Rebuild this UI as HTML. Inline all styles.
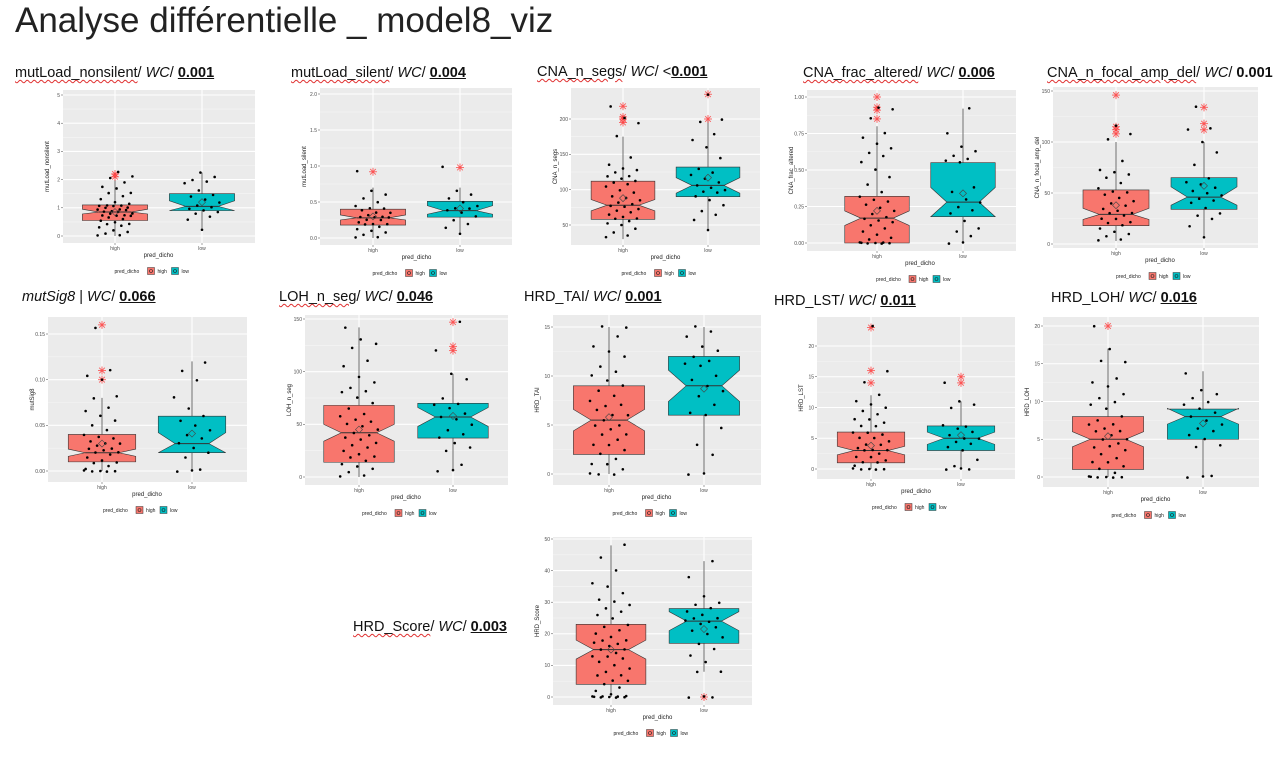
<!DOCTYPE html>
<html><head><meta charset="utf-8"><style>
html,body{margin:0;padding:0;background:#fff;}
body{width:1277px;height:765px;overflow:hidden;position:relative;font-family:"Liberation Sans",sans-serif;}
.t{position:absolute;font-size:14.5px;color:#111;white-space:nowrap;}
.sq{text-decoration:underline wavy #e03030;text-decoration-thickness:1px;text-underline-offset:2px;}
.p{font-weight:bold;text-decoration:underline;}
.pn{font-weight:bold;}
</style></head><body>
<div class="t" style="left:15px;top:1px;font-size:35px;color:#222;">Analyse différentielle _ model8_viz</div>
<div class="t" style="left:15px;top:65px;"><span class="sq">mutLoad_nonsilent</span>/ <i>WC</i>/ <span class="p">0.001</span></div>
<div class="t" style="left:291px;top:65px;"><span class="sq">mutLoad_silent</span>/ <i>WC</i>/ <span class="p">0.004</span></div>
<div class="t" style="left:537px;top:64px;"><span class="sq">CNA_n_segs</span>/ <i>WC</i>/ &lt;<span class="p">0.001</span></div>
<div class="t" style="left:803px;top:65px;"><span class="sq">CNA_frac_altered</span>/ <i>WC</i>/ <span class="p">0.006</span></div>
<div class="t" style="left:1047px;top:65px;"><span class="sq">CNA_n_focal_amp_del</span>/ <i>WC</i>/ <span class="pn">0.001</span></div>
<div class="t" style="left:22px;top:289px;"><i>mutSig8</i> | <i>WC</i>/ <span class="p">0.066</span></div>
<div class="t" style="left:279px;top:289px;"><span class="sq">LOH_n_seg</span>/ <i>WC</i>/ <span class="p">0.046</span></div>
<div class="t" style="left:524px;top:289px;">HRD_TAI/ <i>WC</i>/ <span class="p">0.001</span></div>
<div class="t" style="left:774px;top:293px;">HRD_LST/ <i>WC</i>/ <span class="p">0.011</span></div>
<div class="t" style="left:1051px;top:290px;">HRD_LOH/ <i>WC</i>/ <span class="p">0.016</span></div>
<div class="t" style="left:353px;top:619px;"><span class="sq">HRD_Score</span>/ <i>WC</i>/ <span class="p">0.003</span></div>
<svg id="svg" width="1277" height="765" style="position:absolute;left:0;top:0;" xmlns="http://www.w3.org/2000/svg"></svg>
<script>
const categories = ['high','low'];
// stats: [whiskerLo, q1, median, q3, whiskerHi, notchLo, notchHi, mean]
const p1High=[0,0.55,0.85,1.1,2.0,0.78,0.95,0.85], p1Low=[0.25,0.9,1.05,1.5,2.25,0.9,1.25,1.2];
const p1OutHigh=[2.1,2.2], p1OutLow=[];
const p1PtsHigh=[0,0.05,0.1,0.15,0.2,0.3,0.35,0.4,0.45,0.5,0.55,0.6,0.65,0.7,0.7,0.75,0.75,0.8,0.8,0.85,0.85,0.9,0.9,0.95,0.95,1,1,1.05,1.05,1.1,1.1,1.15,1.2,1.3,1.4,1.5,1.55,1.7,1.75,1.9,2.05,2.1,2.25];
const p1PtsLow=[0.2,0.6,0.7,0.8,0.85,0.9,0.95,1.0,1.1,1.2,1.3,1.4,1.45,1.6,1.85,1.95,2.0,2.1,2.25];
const p1Ticks=[0,1,2,3,4,5];
const p2High=[0,0.18,0.28,0.4,0.7,0.25,0.32,0.3], p2Low=[0.05,0.29,0.38,0.51,0.7,0.33,0.45,0.41];
const p2OutHigh=[0.92], p2OutLow=[0.98];
const p2PtsHigh=[0,0.02,0.05,0.08,0.1,0.12,0.15,0.18,0.2,0.2,0.22,0.25,0.25,0.28,0.28,0.3,0.3,0.32,0.35,0.35,0.38,0.4,0.42,0.45,0.5,0.55,0.6,0.65,0.92];
const p2PtsLow=[0.05,0.15,0.2,0.25,0.3,0.35,0.38,0.4,0.42,0.45,0.5,0.55,0.6,0.65,0.98];
const p2Ticks=[0,0.5,1.0,1.5,2.0];
const p3High=[30,58,78,112,175,70,86,88], p3Low=[42,90,106,132,198,95,117,117];
const p3OutHigh=[195,200,203,218], p3OutLow=[200,235];
const p3PtsHigh=[32,36,40,45,50,52,55,58,60,62,65,68,70,72,75,78,80,82,85,88,90,95,100,105,108,110,112,115,118,120,125,128,130,135,145,175,195,202,218];
const p3PtsLow=[42,58,65,70,78,85,90,95,98,100,103,106,110,115,120,125,130,145,160,170,178,195,200,235];
const p3Ticks=[50,100,150,200];
const p4High=[0,0,0.17,0.32,0.8,0.12,0.22,0.22], p4Low=[0,0.18,0.28,0.55,0.92,0.18,0.38,0.34];
const p4OutHigh=[0.85,0.91,0.93,1.0], p4OutLow=[];
const p4PtsHigh=[0,0,0,0,0,0,0,0.02,0.04,0.06,0.08,0.1,0.12,0.14,0.15,0.17,0.18,0.2,0.22,0.24,0.26,0.28,0.3,0.32,0.35,0.4,0.45,0.5,0.55,0.6,0.62,0.65,0.68,0.72,0.75,0.85,0.92,0.93];
const p4PtsLow=[0,0,0.05,0.08,0.1,0.15,0.2,0.22,0.25,0.28,0.3,0.35,0.38,0.55,0.56,0.58,0.6,0.63,0.66,0.75,0.92];
const p4Ticks=[0,0.25,0.5,0.75,1.0];
const p5High=[3,18,29,53,100,24,35,38], p5Low=[6,34,46,65,100,38,56,57];
const p5OutHigh=[108,112,115,146], p5OutLow=[112,118,134];
const p5PtsHigh=[3,5,8,10,12,15,18,20,22,25,25,28,30,30,32,35,38,40,42,45,48,50,52,55,60,65,68,70,72,82,103,108,116];
const p5PtsLow=[6,18,25,28,30,35,40,42,45,48,50,52,55,58,60,65,78,90,100,112,113,134];
const p5Ticks=[0,50,100,150];
const p6High=[0,0.01,0.02,0.04,0.08,0.016,0.024,0.03], p6Low=[0,0.02,0.03,0.06,0.12,0.02,0.042,0.041];
const p6OutHigh=[0.10,0.11,0.16], p6OutLow=[];
const p6PtsHigh=[0,0,0,0,0,0.002,0.005,0.008,0.01,0.012,0.015,0.018,0.02,0.02,0.022,0.025,0.025,0.028,0.03,0.03,0.032,0.035,0.038,0.04,0.045,0.05,0.055,0.06,0.065,0.07,0.08,0.082,0.1,0.104,0.11,0.156];
const p6PtsLow=[0,0,0.002,0.015,0.02,0.025,0.03,0.035,0.04,0.045,0.05,0.055,0.06,0.068,0.08,0.1,0.11,0.119];
const p6Ticks=[0,0.05,0.10,0.15];
const p7High=[0,14,42,68,142,34,50,45], p7Low=[6,37,57,70,98,48,66,58];
const p7OutHigh=[], p7OutLow=[120,124,147];
const p7PtsHigh=[0,2,5,8,10,12,15,18,20,22,25,28,30,32,35,38,40,42,45,48,50,52,55,58,60,65,70,75,80,82,85,90,95,105,110,122,127,131,142];
const p7PtsLow=[6,6,12,25,28,32,37,40,45,50,55,57,60,65,68,70,75,93,98,120,147];
const p7Ticks=[0,50,100,150];
const p8High=[0,2,5.5,9,15,4.4,6.6,5.8], p8Low=[0,6,9,12,15,7.4,10.6,8.7];
const p8OutHigh=[], p8OutLow=[];
const p8PtsHigh=[0,0,0,0.5,1,1,1.5,2,2.5,3,3,3.5,4,4,4.5,5,5,5.5,6,6,6.5,7,7,7.5,8,8.5,9,9.5,10,10.5,11,12,12.5,13,14,15,15];
const p8PtsLow=[0,0,2,3,4.7,6,6.2,7,8,8.5,9,9.6,10,11,11.2,11.6,12,12.6,13,14,14.5,15];
const p8Ticks=[0,5,10,15];
const p9High=[0,1,3,6,12,2.3,3.7,3.8], p9Low=[0,3,5,7,11,4,6,5.5];
const p9OutHigh=[14,16,23], p9OutLow=[14,15];
const p9PtsHigh=[0,0,0,0,0,0.5,1,1,1.5,2,2,2.5,3,3,3,3.5,4,4,4.5,5,5,5.5,6,6,7,7,7.5,8,8,9,9.5,10,10.5,11,12,14,16,23.3];
const p9PtsLow=[0,0,0,0.5,1.5,3,3.5,4,4.5,5,5,5.5,6,6.5,7,7,10,10.5,11,14];
const p9Ticks=[0,5,10,15,20];
const p10High=[0,1,5,8,17,4,6,5.4], p10Low=[0,5,8,9,14,7,9.1,7.1];
const p10OutHigh=[20], p10OutLow=[];
const p10PtsHigh=[0,0,0,0,0,0,0.5,1,1.5,2,2,2.5,3,3.5,4,4,4.5,5,5,5.5,6,6,6.5,7,7,7.5,8,9,9.5,10,10.5,11,12,12.5,13,15.3,15.3,17,20];
const p10PtsLow=[0,0,0.2,4,4.2,5,5.5,6,6.5,7,7.5,8,8.5,9,9.5,10,10.5,11,11.5,13.7];
const p10Ticks=[0,5,10,15,20];
const p11High=[0,4,15,23,48,12,18,15], p11Low=[8,17,24,28,43,21,27,21.5];
const p11OutHigh=[], p11OutLow=[0];
const p11PtsHigh=[0,0,0,0,0,0,0,0,0.5,1,2,3,4,5,5,7,7,8,9,10,11,12,13,13,14,15,15,16,17,17,18,18,19,20,21,22,23,25,26,27,28,29,30,31,33,35,36,40,44,48];
const p11PtsLow=[0,0,0,8,8,11,13,15,17,19,20,21,22,23,24,24,25,25,26,27,28,29,30,32,38,43];
const p11Ticks=[0,10,20,30,40,50];

const NS='http://www.w3.org/2000/svg';
const svg=document.getElementById('svg');
function mk(tag,attrs,parent){const e=document.createElementNS(NS,tag);for(const k in attrs)e.setAttribute(k,attrs[k]);(parent||svg).appendChild(e);return e;}
const COLORS={high:'#F8766D',low:'#00BFC4'};

const panels=[
 {id:'mutload-nonsilent',yl:'mutLoad_nonsilent',r:[63,90,255,243],v:[0,236,5,95],cx:[115,202],dec:0,d:[p1High,p1Low],o:[p1OutHigh,p1OutLow],pts:[p1PtsHigh,p1PtsLow],ticks:p1Ticks},
 {id:'mutload-silent',yl:'mutLoad_silent',r:[320,88,512,245],v:[0,238,2,94],cx:[373,460],dec:1,d:[p2High,p2Low],o:[p2OutHigh,p2OutLow],pts:[p2PtsHigh,p2PtsLow],ticks:p2Ticks},
 {id:'cna-n-segs',yl:'CNA_n_segs',r:[571,88,760,245],v:[50,225,200,119],cx:[623,708],dec:0,d:[p3High,p3Low],o:[p3OutHigh,p3OutLow],pts:[p3PtsHigh,p3PtsLow],ticks:p3Ticks},
 {id:'cna-frac-altered',yl:'CNA_frac_altered',r:[807,90,1016,251],v:[0,243,1,97],cx:[877,963],dec:2,d:[p4High,p4Low],o:[p4OutHigh,p4OutLow],pts:[p4PtsHigh,p4PtsLow],ticks:p4Ticks},
 {id:'cna-focal',yl:'CNA_n_focal_amp_del',r:[1053,87,1258,248],v:[0,244,150,91],cx:[1116,1204],dec:0,d:[p5High,p5Low],o:[p5OutHigh,p5OutLow],pts:[p5PtsHigh,p5PtsLow],ticks:p5Ticks},
 {id:'mutsig8',yl:'mutSig8',r:[48,317,247,482],v:[0,471,0.15,334],cx:[102,192],dec:2,d:[p6High,p6Low],o:[p6OutHigh,p6OutLow],pts:[p6PtsHigh,p6PtsLow],ticks:p6Ticks},
 {id:'loh-n-seg',yl:'LOH_n_seg',r:[305,315,508,485],v:[0,477,150,319],cx:[359,453],dec:0,d:[p7High,p7Low],o:[p7OutHigh,p7OutLow],pts:[p7PtsHigh,p7PtsLow],ticks:p7Ticks},
 {id:'hrd-tai',yl:'HRD_TAI',r:[553,315,761,485],v:[0,474,15,327],cx:[609,704],dec:0,d:[p8High,p8Low],o:[p8OutHigh,p8OutLow],pts:[p8PtsHigh,p8PtsLow],ticks:p8Ticks},
 {id:'hrd-lst',yl:'HRD_LST',r:[817,317,1015,479],v:[0,469,20,346],cx:[871,961],dec:0,d:[p9High,p9Low],o:[p9OutHigh,p9OutLow],pts:[p9PtsHigh,p9PtsLow],ticks:p9Ticks},
 {id:'hrd-loh',yl:'HRD_LOH',r:[1043,317,1259,487],v:[0,477,20,326],cx:[1108,1203],dec:0,d:[p10High,p10Low],o:[p10OutHigh,p10OutLow],pts:[p10PtsHigh,p10PtsLow],ticks:p10Ticks},
 {id:'hrd-score',yl:'HRD_Score',r:[553,537,752,705],v:[0,697,50,539],cx:[611,704],dec:0,d:[p11High,p11Low],o:[p11OutHigh,p11OutLow],pts:[p11PtsHigh,p11PtsLow],ticks:p11Ticks}
];

function star(g,x,y){
  const s=mk('g',{stroke:'#ff3030','stroke-width':0.9,opacity:0.75},g);
  
  
  for(let a=0;a<4;a++){const an=a*Math.PI/4;mk('line',{x1:x-4*Math.cos(an),y1:y-4*Math.sin(an),x2:x+4*Math.cos(an),y2:y+4*Math.sin(an)},s);}
  mk('circle',{cx:x,cy:y,r:1.3,fill:'#ff2020',stroke:'none'},s);
}

panels.forEach(P=>{
  const g=mk('g',{});
  
  
  const [x0,y0,x1,y1]=P.r;
  const Y=v=>P.v[1]+(v-P.v[0])*(P.v[3]-P.v[1])/(P.v[2]-P.v[0]);
  const bg=mk('rect',{x:x0,y:y0,width:x1-x0,height:y1-y0,fill:'#EBEBEB'},g);
  
  
  for(let i=0;i<P.ticks.length-1;i++){const m=(P.ticks[i]+P.ticks[i+1])/2;mk('line',{x1:x0,x2:x1,y1:Y(m),y2:Y(m),stroke:'#F6F6F6','stroke-width':0.6},g);}
  P.ticks.forEach(t=>{
    const yy=Y(t);
    mk('line',{x1:x0,x2:x1,y1:yy,y2:yy,stroke:'#fff','stroke-width':1.1},g);
    mk('line',{x1:x0-2,x2:x0,y1:yy,y2:yy,stroke:'#444','stroke-width':0.5},g);
    const tx=mk('text',{x:x0-3,y:yy+1.8,'font-size':5,fill:'#4d4d4d','text-anchor':'end','font-family':'Liberation Sans, sans-serif'},g);
    tx.textContent=t.toFixed(P.dec);
    
    
  });
  const sp=P.cx[1]-P.cx[0], hw=sp*0.75/2;
  P.cx.forEach(cx=>mk('line',{x1:cx,x2:cx,y1:y0,y2:y1,stroke:'#fff','stroke-width':1.1},g));
  categories.forEach((c,i)=>{
    const cx=P.cx[i], s=P.d[i];
    const [wl,q1,md,q3,wh,nl,nh,mean]=s;
    const wk=mk('line',{x1:cx,x2:cx,y1:Y(wl),y2:Y(wh),stroke:'#333','stroke-width':0.7},g);
    
    
    const L=cx-hw,R=cx+hw,nw=hw*0.5;
    const d=`M${L},${Y(q3)}L${R},${Y(q3)}L${R},${Y(nh)}L${cx+nw},${Y(md)}L${R},${Y(nl)}L${R},${Y(q1)}L${L},${Y(q1)}L${L},${Y(nl)}L${cx-nw},${Y(md)}L${L},${Y(nh)}Z`;
    const bx=mk('path',{d:d,fill:COLORS[c],stroke:'#333','stroke-width':0.6},g);
    
    
    mk('line',{x1:cx-nw,x2:cx+nw,y1:Y(md),y2:Y(md),stroke:'#333','stroke-width':1},g);
    P.o[i].forEach(v=>star(g,cx,Y(v)));
    P.pts[i].forEach((v,k)=>{
      const jx=(((k*37+i*11)%23)/22-0.5)*sp*0.4;
      const jy=(((k*13)%7)/6-0.5)*1.2;
      const pt=mk('circle',{cx:cx+jx,cy:Y(v)+jy,r:1.3,fill:'#000'},g);
      
      
    });
    const my=Y(mean);
    const mn=mk('path',{d:`M${cx},${my-3.5}L${cx+3.5},${my}L${cx},${my+3.5}L${cx-3.5},${my}Z`,fill:'none',stroke:'#444','stroke-width':0.6},g);
    
    
    mk('line',{x1:cx,x2:cx,y1:y1,y2:y1+2,stroke:'#444','stroke-width':0.5},g);
    const xl=mk('text',{x:cx,y:y1+7,'font-size':5,fill:'#4d4d4d','text-anchor':'middle','font-family':'Liberation Sans, sans-serif'},g);
    xl.textContent=c;
    
    
  });
  const mid=(P.cx[0]+P.cx[1])/2;
  const xt=mk('text',{x:mid,y:y1+14,'font-size':6,fill:'#222','text-anchor':'middle','font-family':'Liberation Sans, sans-serif'},g);
  xt.textContent='pred_dicho';
  
  
  const yt=mk('text',{x:0,y:0,'font-size':6,fill:'#222','text-anchor':'middle','font-family':'Liberation Sans, sans-serif',transform:`translate(${x0-14},${(y0+y1)/2}) rotate(-90)`},g);
  yt.textContent=P.yl;
  
  
  const ly=y1+28, lx=mid-44;
  const lg=mk('g',{},g);
  
  
  const lt=mk('text',{x:lx,y:ly+2,'font-size':5,fill:'#222','font-family':'Liberation Sans, sans-serif'},lg);
  lt.textContent='pred_dicho';
  categories.forEach((c,i)=>{
    const kx=lx+33+i*24;
    const key=mk('rect',{x:kx,y:ly-3.5,width:7,height:7,fill:COLORS[c],stroke:'#333','stroke-width':0.5},lg);
    
    
    mk('circle',{cx:kx+3.5,cy:ly,r:1.5,fill:'none',stroke:'#222','stroke-width':0.6},lg);
    const kt=mk('text',{x:kx+10,y:ly+2,'font-size':5,fill:'#222','font-family':'Liberation Sans, sans-serif'},lg);
    kt.textContent=c;
    
    
  });
});
</script>
</body></html>
